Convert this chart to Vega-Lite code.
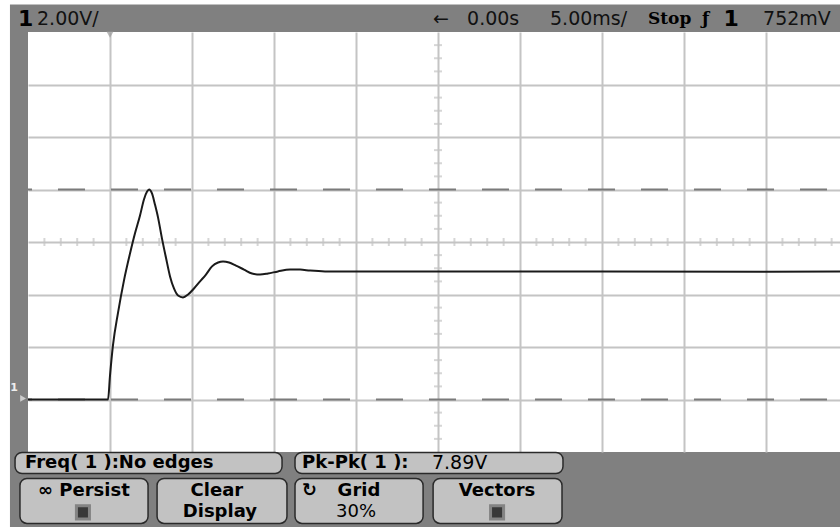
{
  "$schema": "https://vega.github.io/schema/vega-lite/v6.json",
  "width": 812,
  "height": 420,
  "autosize": "none",
  "padding": {"left": 28, "top": 32, "right": 0, "bottom": 75},
  "background": "#808080",
  "config": {"view": {"stroke": null, "fill": "#ffffff"}},
  "datasets": {
    "trace": [
      {"t": -25, "v": 0}, {"t": -20.12, "v": 0}, {"t": -20.0, "v": 0.91}, {"t": -19.82, "v": 2.06},
      {"t": -19.51, "v": 3.31}, {"t": -19.15, "v": 4.53}, {"t": -18.78, "v": 5.56}, {"t": -18.48, "v": 6.32},
      {"t": -18.17, "v": 7.01}, {"t": -17.93, "v": 7.62}, {"t": -17.74, "v": 7.92}, {"t": -17.62, "v": 8.0},
      {"t": -17.44, "v": 7.85}, {"t": -17.26, "v": 7.43}, {"t": -17.07, "v": 6.93}, {"t": -16.83, "v": 6.13},
      {"t": -16.59, "v": 5.41}, {"t": -16.34, "v": 4.69}, {"t": -16.1, "v": 4.23}, {"t": -15.85, "v": 3.96},
      {"t": -15.55, "v": 3.89}, {"t": -15.24, "v": 4.0}, {"t": -14.88, "v": 4.23}, {"t": -14.51, "v": 4.5},
      {"t": -14.15, "v": 4.76}, {"t": -13.78, "v": 5.07}, {"t": -13.41, "v": 5.22}, {"t": -13.11, "v": 5.26},
      {"t": -12.74, "v": 5.22}, {"t": -12.32, "v": 5.1}, {"t": -11.83, "v": 4.95}, {"t": -11.34, "v": 4.8},
      {"t": -10.85, "v": 4.76}, {"t": -10.37, "v": 4.8}, {"t": -9.76, "v": 4.88}, {"t": -9.02, "v": 4.95},
      {"t": -8.41, "v": 4.95}, {"t": -7.8, "v": 4.91}, {"t": -6.89, "v": 4.88}, {"t": -5.98, "v": 4.88},
      {"t": 0, "v": 4.88}, {"t": 10, "v": 4.88}, {"t": 20, "v": 4.87}, {"t": 24.51, "v": 4.88}
    ],
    "hticks": [
      {"t": -24}, {"t": -23}, {"t": -22}, {"t": -21}, {"t": -19}, {"t": -18}, {"t": -17}, {"t": -16},
      {"t": -14}, {"t": -13}, {"t": -12}, {"t": -11}, {"t": -9}, {"t": -8}, {"t": -7}, {"t": -6},
      {"t": -4}, {"t": -3}, {"t": -2}, {"t": -1}, {"t": 1}, {"t": 2}, {"t": 3}, {"t": 4},
      {"t": 6}, {"t": 7}, {"t": 8}, {"t": 9}, {"t": 11}, {"t": 12}, {"t": 13}, {"t": 14},
      {"t": 16}, {"t": 17}, {"t": 18}, {"t": 19}, {"t": 21}, {"t": 22}, {"t": 23}, {"t": 24}
    ],
    "vticks": [
      {"v": -1.5}, {"v": -1}, {"v": -0.5}, {"v": 0.5}, {"v": 1}, {"v": 1.5}, {"v": 2.5}, {"v": 3},
      {"v": 3.5}, {"v": 4.5}, {"v": 5}, {"v": 5.5}, {"v": 6.5}, {"v": 7}, {"v": 7.5}, {"v": 8.5},
      {"v": 9}, {"v": 9.5}, {"v": 10.5}, {"v": 11}, {"v": 11.5}, {"v": 12.5}, {"v": 13}, {"v": 13.5}
    ],
    "markers": [{"v": 0}, {"v": 8}],
    "frame": [
      {"t": -27, "t2": -26.1, "v": -6, "v2": 16},
      {"t": -27, "t2": 26, "v": 15.05, "v2": 16}
    ],
    "boxes": [
      {"t": -25.79, "t2": -9.51, "v": -2.02, "v2": -2.82},
      {"t": -8.72, "t2": 7.62, "v": -2.02, "v2": -2.82},
      {"t": -25.49, "t2": -17.68, "v": -3.01, "v2": -4.72},
      {"t": -17.13, "t2": -9.21, "v": -3.01, "v2": -4.72},
      {"t": -8.72, "t2": -0.91, "v": -3.01, "v2": -4.72},
      {"t": -0.3, "t2": 7.56, "v": -3.01, "v2": -4.72}
    ],
    "topReg": [
      {"t": -24.45, "v": 14.5, "label": "2.00V/"},
      {"t": -0.3, "v": 14.5, "label": "←"},
      {"t": 1.77, "v": 14.5, "label": "0.00s"},
      {"t": 6.83, "v": 14.5, "label": "5.00ms/"},
      {"t": 19.82, "v": 14.5, "label": "752mV"}
    ],
    "topBold": [
      {"t": 12.8, "v": 14.5, "label": "Stop"},
      {"t": 16.1, "v": 14.5, "label": "ƒ"}
    ],
    "topBig": [
      {"t": -25.61, "v": 14.5, "label": "1"},
      {"t": 17.4, "v": 14.5, "label": "1"}
    ],
    "btmLeft": [
      {"t": -25.18, "v": -2.4, "label": "Freq( 1 ):No edges"},
      {"t": -8.29, "v": -2.4, "label": "Pk-Pk( 1 ):"},
      {"t": -8.3, "v": -3.5, "label": "↻"}
    ],
    "btmLeftReg": [
      {"t": -0.37, "v": -2.4, "label": "7.89V"}
    ],
    "btmCenter": [
      {"t": -21.59, "v": -3.5, "label": "∞ Persist"},
      {"t": -13.48, "v": -3.5, "label": "Clear"},
      {"t": -13.3, "v": -4.3, "label": "Display"},
      {"t": -4.82, "v": -3.5, "label": "Grid"},
      {"t": 3.6, "v": -3.5, "label": "Vectors"}
    ],
    "btmCenterReg": [
      {"t": -5.0, "v": -4.3, "label": "30%"}
    ],
    "icons": [
      {"t": -21.65, "v": -4.3},
      {"t": 3.6, "v": -4.3}
    ],
    "trig": [{"t": -20, "v": 13.9}],
    "gnd": [{"t": -25.3, "v": 0.04}],
    "gndLabel": [{"t": -25.85, "v": 0.42, "label": "1"}]
  },
  "layer": [
    {
      "data": {"name": "markers"},
      "mark": {"type": "rule", "color": "#7a7a7a", "strokeWidth": 2, "strokeDash": [27, 26], "strokeDashOffset": 40},
      "encoding": {
        "y": {"field": "v", "type": "quantitative", "scale": {"domain": [-2, 14], "nice": false, "zero": false},
          "axis": {"values": [0, 2, 4, 6, 8, 10, 12], "grid": true, "gridColor": "#c4c4c4", "gridWidth": 2, "labels": false, "ticks": false, "domain": false, "title": null}}
      }
    },
    {
      "data": {"name": "hticks"},
      "mark": {"type": "tick", "orient": "vertical", "color": "#c4c4c4", "size": 8, "thickness": 2},
      "encoding": {
        "x": {"field": "t", "type": "quantitative", "scale": {"domain": [-25, 24.51], "nice": false, "zero": false},
          "axis": {"values": [-20, -15, -10, -5, 0, 5, 10, 15, 20], "grid": true, "gridColor": "#c4c4c4", "gridWidth": 2, "labels": false, "ticks": false, "domain": false, "title": null}},
        "y": {"datum": 6, "type": "quantitative"}
      }
    },
    {
      "data": {"name": "vticks"},
      "mark": {"type": "tick", "orient": "horizontal", "color": "#c4c4c4", "size": 8, "thickness": 2},
      "encoding": {
        "y": {"field": "v", "type": "quantitative"},
        "x": {"datum": 0, "type": "quantitative"}
      }
    },
    {
      "data": {"name": "trace"},
      "mark": {"type": "line", "color": "#1a1a1a", "strokeWidth": 2, "interpolate": "monotone"},
      "encoding": {
        "x": {"field": "t", "type": "quantitative"},
        "y": {"field": "v", "type": "quantitative"}
      }
    },
    {
      "data": {"name": "frame"},
      "mark": {"type": "rect", "fill": "#ffffff", "clip": false},
      "encoding": {
        "x": {"field": "t", "type": "quantitative"}, "x2": {"field": "t2"},
        "y": {"field": "v", "type": "quantitative"}, "y2": {"field": "v2"}
      }
    },
    {
      "data": {"name": "trig"},
      "mark": {"type": "point", "shape": "triangle-down", "filled": true, "color": "#9a9a9a", "size": 50, "clip": false},
      "encoding": {"x": {"field": "t", "type": "quantitative"}, "y": {"field": "v", "type": "quantitative"}}
    },
    {
      "data": {"name": "gnd"},
      "mark": {"type": "point", "shape": "triangle-right", "filled": true, "color": "#eeeeee", "size": 45, "clip": false},
      "encoding": {"x": {"field": "t", "type": "quantitative"}, "y": {"field": "v", "type": "quantitative"}}
    },
    {
      "data": {"name": "gndLabel"},
      "mark": {"type": "text", "align": "center", "baseline": "middle", "font": "DejaVu Sans", "fontWeight": "bold", "fontSize": 11, "color": "#eeeeee", "clip": false},
      "encoding": {"x": {"field": "t", "type": "quantitative"}, "y": {"field": "v", "type": "quantitative"}, "text": {"field": "label"}}
    },
    {
      "data": {"name": "boxes"},
      "mark": {"type": "rect", "fill": "#c2c2c2", "stroke": "#2a2a2a", "strokeWidth": 1.5, "cornerRadius": 7, "clip": false},
      "encoding": {
        "x": {"field": "t", "type": "quantitative"}, "x2": {"field": "t2"},
        "y": {"field": "v", "type": "quantitative"}, "y2": {"field": "v2"}
      }
    },
    {
      "data": {"name": "icons"},
      "mark": {"type": "square", "filled": true, "color": "#000000", "stroke": "#6a6a6a", "strokeWidth": 3, "size": 170, "clip": false},
      "encoding": {"x": {"field": "t", "type": "quantitative"}, "y": {"field": "v", "type": "quantitative"}}
    },
    {
      "data": {"name": "topReg"},
      "mark": {"type": "text", "align": "left", "baseline": "middle", "font": "DejaVu Sans", "fontSize": 19, "color": "#111111", "clip": false},
      "encoding": {"x": {"field": "t", "type": "quantitative"}, "y": {"field": "v", "type": "quantitative"}, "text": {"field": "label"}}
    },
    {
      "data": {"name": "topBold"},
      "mark": {"type": "text", "align": "left", "baseline": "middle", "font": "DejaVu Serif", "fontWeight": "bold", "fontSize": 17, "color": "#000000", "clip": false},
      "encoding": {"x": {"field": "t", "type": "quantitative"}, "y": {"field": "v", "type": "quantitative"}, "text": {"field": "label"}}
    },
    {
      "data": {"name": "topBig"},
      "mark": {"type": "text", "align": "left", "baseline": "middle", "font": "DejaVu Sans", "fontWeight": "bold", "fontSize": 22, "color": "#000000", "clip": false},
      "encoding": {"x": {"field": "t", "type": "quantitative"}, "y": {"field": "v", "type": "quantitative"}, "text": {"field": "label"}}
    },
    {
      "data": {"name": "btmLeft"},
      "mark": {"type": "text", "align": "left", "baseline": "middle", "font": "DejaVu Sans", "fontWeight": "bold", "fontSize": 18, "color": "#000000", "clip": false},
      "encoding": {"x": {"field": "t", "type": "quantitative"}, "y": {"field": "v", "type": "quantitative"}, "text": {"field": "label"}}
    },
    {
      "data": {"name": "btmLeftReg"},
      "mark": {"type": "text", "align": "left", "baseline": "middle", "font": "DejaVu Sans", "fontSize": 19, "color": "#000000", "clip": false},
      "encoding": {"x": {"field": "t", "type": "quantitative"}, "y": {"field": "v", "type": "quantitative"}, "text": {"field": "label"}}
    },
    {
      "data": {"name": "btmCenter"},
      "mark": {"type": "text", "align": "center", "baseline": "middle", "font": "DejaVu Sans", "fontWeight": "bold", "fontSize": 18, "color": "#000000", "clip": false},
      "encoding": {"x": {"field": "t", "type": "quantitative"}, "y": {"field": "v", "type": "quantitative"}, "text": {"field": "label"}}
    },
    {
      "data": {"name": "btmCenterReg"},
      "mark": {"type": "text", "align": "center", "baseline": "middle", "font": "DejaVu Sans", "fontSize": 18, "color": "#000000", "clip": false},
      "encoding": {"x": {"field": "t", "type": "quantitative"}, "y": {"field": "v", "type": "quantitative"}, "text": {"field": "label"}}
    }
  ]
}
